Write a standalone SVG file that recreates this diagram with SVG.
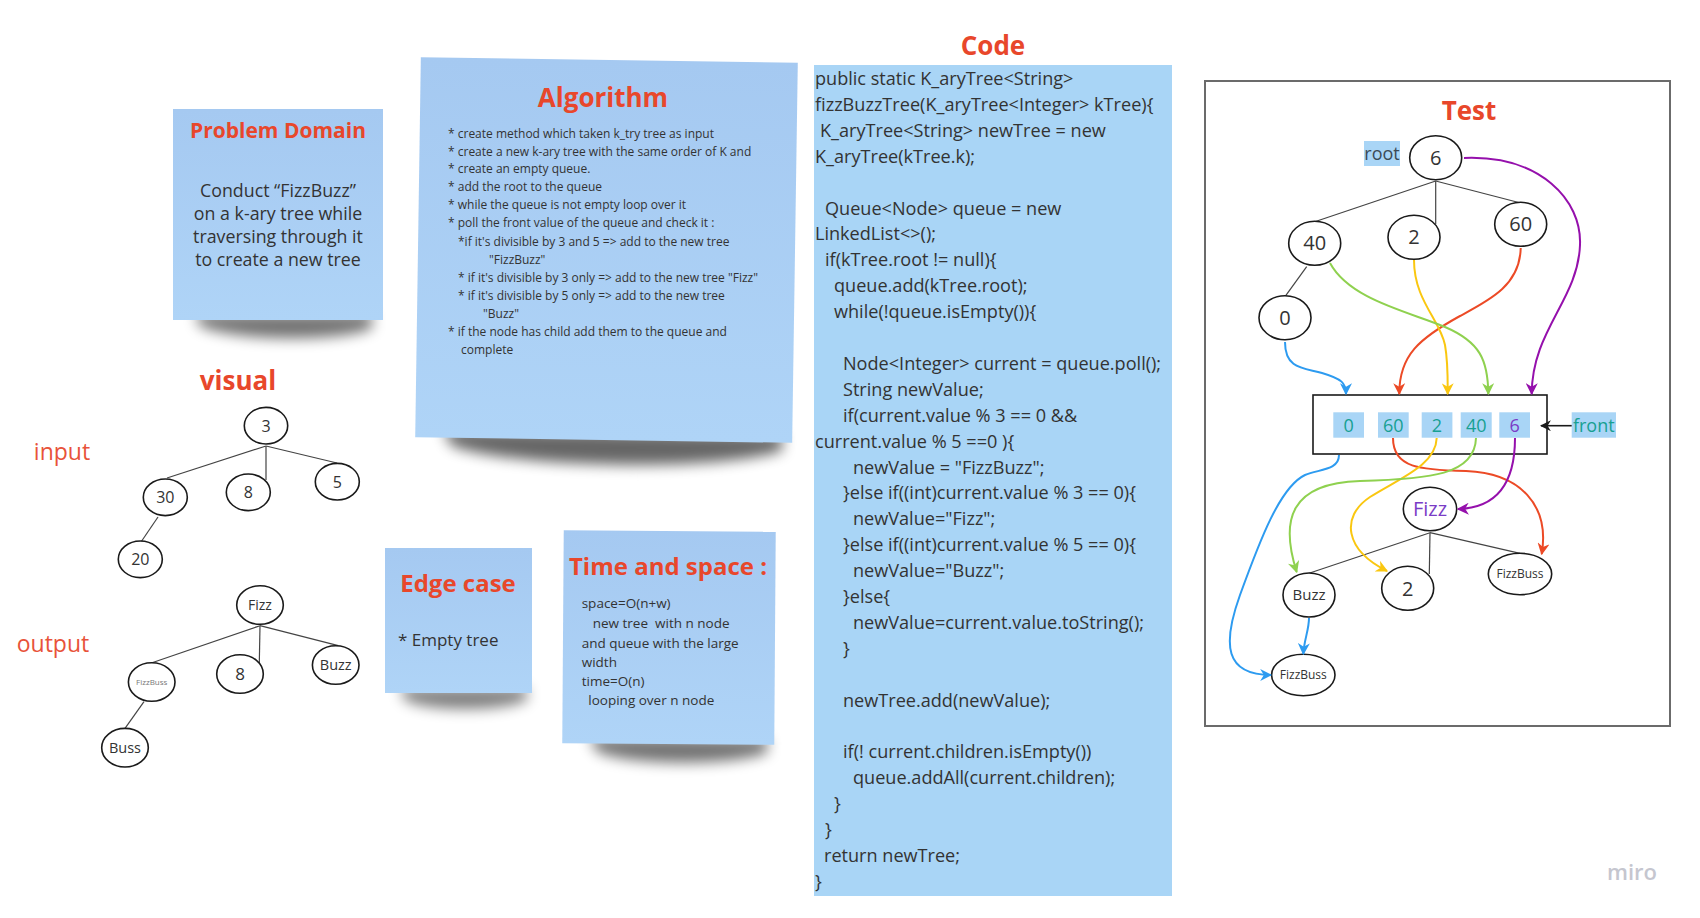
<svg xmlns="http://www.w3.org/2000/svg" width="1700" height="918" viewBox="0 0 1700 918">
<defs>
<style>
text{font-family:"Open Sans","Liberation Sans",sans-serif;fill:#333}
.title{font-weight:700;fill:#e8472b;text-anchor:middle}
.lbl{fill:#e8533a;font-size:23px;text-anchor:middle}
.alg{font-size:12px}
.code{font-size:18.1px}
.ts{font-size:13.5px}
.node{fill:#fff;stroke:#1a1a1a;stroke-width:1.6}
.edge{stroke:#444;stroke-width:1.2;fill:none}
.nt{text-anchor:middle}
.cell{fill:#a9d5f6}
.ct{fill:#17a092;font-size:18px;text-anchor:middle}
.arr{fill:none;stroke-width:2}
</style>
<linearGradient id="stk" x1="0" y1="0" x2="0" y2="1">
<stop offset="0" stop-color="#a5c9f1"/>
<stop offset="1" stop-color="#afd4f7"/>
</linearGradient>
<filter id="blur" x="-20%" y="-100%" width="140%" height="300%"><feGaussianBlur stdDeviation="7"/></filter>
<marker id="mb" viewBox="0 0 10 10" refX="9" refY="5" markerWidth="12" markerHeight="12" markerUnits="userSpaceOnUse" orient="auto"><path d="M0,0 L10,5 L0,10 L3,5 Z" fill="#2d9bf0"/></marker>
<marker id="mr" viewBox="0 0 10 10" refX="9" refY="5" markerWidth="12" markerHeight="12" markerUnits="userSpaceOnUse" orient="auto"><path d="M0,0 L10,5 L0,10 L3,5 Z" fill="#ec4a26"/></marker>
<marker id="my" viewBox="0 0 10 10" refX="9" refY="5" markerWidth="12" markerHeight="12" markerUnits="userSpaceOnUse" orient="auto"><path d="M0,0 L10,5 L0,10 L3,5 Z" fill="#fac710"/></marker>
<marker id="mg" viewBox="0 0 10 10" refX="9" refY="5" markerWidth="12" markerHeight="12" markerUnits="userSpaceOnUse" orient="auto"><path d="M0,0 L10,5 L0,10 L3,5 Z" fill="#8fd14f"/></marker>
<marker id="mp" viewBox="0 0 10 10" refX="9" refY="5" markerWidth="12" markerHeight="12" markerUnits="userSpaceOnUse" orient="auto"><path d="M0,0 L10,5 L0,10 L3,5 Z" fill="#9510ac"/></marker>
<marker id="mk" viewBox="0 0 10 10" refX="9" refY="5" markerWidth="11" markerHeight="11" markerUnits="userSpaceOnUse" orient="auto"><path d="M0,0 L10,5 L0,10 L3,5 Z" fill="#1a1a1a"/></marker>
</defs>
<rect width="1700" height="918" fill="#fff"/>

<!-- Problem Domain sticky -->
<g id="problem-domain">
<path d="M195,314 H372 V328 C340,342 240,342 200,326 Z" fill="#000" opacity="0.55" filter="url(#blur)"/>
<rect x="173" y="109" width="210" height="211" fill="url(#stk)"/>
<text class="title" x="278" y="138" font-size="21">Problem Domain</text>
<g class="nt" font-size="17.8">
<text x="278" y="197">Conduct “FizzBuzz”</text>
<text x="278" y="220">on a k-ary tree while</text>
<text x="278" y="243">traversing through it</text>
<text x="278" y="266">to create a new tree</text>
</g>
</g>

<!-- Algorithm sticky -->
<g id="algorithm">
<g transform="rotate(0.85 605 250)">
<path d="M445,432 H785 V448 C720,470 520,470 455,448 Z" fill="#000" opacity="0.6" filter="url(#blur)"/>
<rect x="418" y="60" width="377" height="380" fill="url(#stk)"/>
</g>
<text class="title" x="603" y="107" font-size="26">Algorithm</text>
<g class="alg">
<text x="448" y="137.7">* create method which taken k_try tree as input</text>
<text x="448" y="155.7">* create a new k-ary tree with the same order of K and</text>
<text x="448" y="173.3">* create an empty queue.</text>
<text x="448" y="191">* add the root to the queue</text>
<text x="448" y="209.3">* while the queue is not empty loop over it</text>
<text x="448" y="227.3">* poll the front value of the queue and check it :</text>
<text x="458" y="246">*if it's divisible by 3 and 5 =&gt; add to the new tree</text>
<text x="489" y="264">"FizzBuzz"</text>
<text x="458" y="281.7">* if it's divisible by 3 only =&gt; add to the new tree "Fizz"</text>
<text x="458" y="300">* if it's divisible by 5 only =&gt; add to the new tree</text>
<text x="483" y="317.7">"Buzz"</text>
<text x="448" y="336">* if the node has child add them to the queue and</text>
<text x="461" y="354">complete</text>
</g>
</g>

<!-- Visual -->
<g id="visual-title"><text class="title" x="238" y="390" font-size="26">visual</text></g>
<g id="input-label"><text class="lbl" x="62" y="460">input</text></g>
<g id="output-label"><text class="lbl" x="53" y="652">output</text></g>

<g id="input-tree-edges">
<line class="edge" x1="266" y1="446" x2="167" y2="478"/>
<line class="edge" x1="266" y1="446" x2="266" y2="480"/>
<line class="edge" x1="266" y1="446" x2="337" y2="463"/>
<line class="edge" x1="158" y1="517" x2="141" y2="542"/>
</g>
<g id="in-3"><ellipse class="node" cx="266" cy="425.7" rx="21.7" ry="18.3"/><text class="nt" x="266" y="431.5" font-size="16">3</text></g>
<g id="in-30"><ellipse class="node" cx="165.3" cy="497.3" rx="22" ry="18.3"/><text class="nt" x="165.3" y="503" font-size="16">30</text></g>
<g id="in-8"><ellipse class="node" cx="248.3" cy="492.3" rx="22" ry="18.3"/><text class="nt" x="248.3" y="498" font-size="16">8</text></g>
<g id="in-5"><ellipse class="node" cx="337.3" cy="481.7" rx="22" ry="18.3"/><text class="nt" x="337.3" y="487.5" font-size="16">5</text></g>
<g id="in-20"><ellipse class="node" cx="140.3" cy="559.3" rx="22" ry="18.3"/><text class="nt" x="140.3" y="565" font-size="16">20</text></g>

<g id="output-tree-edges">
<line class="edge" x1="260" y1="625.7" x2="152" y2="662.7"/>
<line class="edge" x1="260" y1="625.7" x2="259.3" y2="663.3"/>
<line class="edge" x1="260" y1="625.7" x2="338.3" y2="645.7"/>
<line class="edge" x1="144" y1="701.7" x2="125" y2="728.3"/>
</g>
<g id="out-fizz"><ellipse class="node" cx="260" cy="605" rx="23.3" ry="19.3"/><text class="nt" x="260" y="610" font-size="14">Fizz</text></g>
<g id="out-fizzbuss"><ellipse class="node" cx="151.7" cy="682" rx="23.3" ry="19.3"/><text class="nt" x="151.7" y="685" font-size="8" style="fill:#777">FizzBuss</text></g>
<g id="out-8"><ellipse class="node" cx="240" cy="674" rx="23.3" ry="19.3"/><text class="nt" x="240" y="680" font-size="17">8</text></g>
<g id="out-buzz"><ellipse class="node" cx="335.7" cy="665" rx="23.3" ry="19.3"/><text class="nt" x="335.7" y="670" font-size="14.5">Buzz</text></g>
<g id="out-buss"><ellipse class="node" cx="125" cy="747.7" rx="23.3" ry="19.3"/><text class="nt" x="125" y="753" font-size="14.5">Buss</text></g>

<!-- Edge case -->
<g id="edge-case">
<path d="M400,688 H527 V700 C500,712 430,712 405,700 Z" fill="#000" opacity="0.5" filter="url(#blur)"/>
<rect x="385" y="548" width="147" height="145" fill="url(#stk)"/>
<text class="title" x="458" y="592" font-size="24">Edge case</text>
<text x="398" y="646" font-size="17">* Empty tree</text>
</g>

<!-- Time and space -->
<g id="time-space">
<g transform="rotate(0.4 669 637)">
<path d="M590,738 H768 V752 C730,766 630,766 598,752 Z" fill="#000" opacity="0.55" filter="url(#blur)"/>
<rect x="563" y="531" width="212" height="213" fill="url(#stk)"/>
</g>
<text class="title" x="668" y="575" font-size="24">Time and space :</text>
<g class="ts">
<text x="581.7" y="608.3">space=O(n+w)</text>
<text x="592.7" y="628.3" xml:space="preserve">new tree  with n node</text>
<text x="581.7" y="647.7">and queue with the large</text>
<text x="581.7" y="666.7">width</text>
<text x="581.7" y="685.7">time=O(n)</text>
<text x="588.3" y="705">looping over n node</text>
</g>
</g>

<!-- Code -->
<g id="code">
<text class="title" x="993" y="55" font-size="26">Code</text>
<rect x="814" y="65" width="358" height="831" fill="#a9d5f6"/>
<g class="code">
<text x="815" y="85">public static K_aryTree&lt;String&gt;</text>
<text x="815" y="110.9">fizzBuzzTree(K_aryTree&lt;Integer&gt; kTree){</text>
<text x="820" y="136.8">K_aryTree&lt;String&gt; newTree = new</text>
<text x="815" y="162.7">K_aryTree(kTree.k);</text>
<text x="825" y="214.5">Queue&lt;Node&gt; queue = new</text>
<text x="815" y="240.4">LinkedList&lt;&gt;();</text>
<text x="825" y="266.3">if(kTree.root != null){</text>
<text x="834" y="292.2">queue.add(kTree.root);</text>
<text x="834" y="318.1">while(!queue.isEmpty()){</text>
<text x="843" y="369.9">Node&lt;Integer&gt; current = queue.poll();</text>
<text x="843" y="395.8">String newValue;</text>
<text x="843" y="421.7">if(current.value % 3 == 0 &amp;&amp;</text>
<text x="815" y="447.6">current.value % 5 ==0 ){</text>
<text x="853" y="473.5">newValue = "FizzBuzz";</text>
<text x="843" y="499.4">}else if((int)current.value % 3 == 0){</text>
<text x="853" y="525.3">newValue="Fizz";</text>
<text x="843" y="551.2">}else if((int)current.value % 5 == 0){</text>
<text x="853" y="577.1">newValue="Buzz";</text>
<text x="843" y="603">}else{</text>
<text x="853" y="628.9">newValue=current.value.toString();</text>
<text x="843" y="654.8">}</text>
<text x="843" y="706.6">newTree.add(newValue);</text>
<text x="843" y="758.4">if(! current.children.isEmpty())</text>
<text x="853" y="784.3">queue.addAll(current.children);</text>
<text x="834" y="810.2">}</text>
<text x="825" y="836.1">}</text>
<text x="824" y="862">return newTree;</text>
<text x="815" y="887.9">}</text>
</g>
</g>

<!-- Test frame -->
<g id="test-frame">
<rect x="1205" y="81" width="465" height="645" fill="#fff" stroke="#6b6b6b" stroke-width="2"/>
<text class="title" x="1469" y="120" font-size="26">Test</text>
</g>
<g id="root-label"><rect x="1364" y="141" width="36" height="25" class="cell"/><text x="1382" y="160" font-size="18" class="nt" style="fill:#3c4a55">root</text></g>

<g id="test-tree-edges">
<line class="edge" x1="1435.7" y1="181" x2="1314.7" y2="221.7"/>
<line class="edge" x1="1435.7" y1="181" x2="1435.7" y2="224"/>
<line class="edge" x1="1435.7" y1="181" x2="1520.7" y2="203"/>
<line class="edge" x1="1306.7" y1="266.7" x2="1285" y2="296.7"/>
<line class="edge" x1="1430" y1="532.7" x2="1309" y2="573.3"/>
<line class="edge" x1="1430" y1="532.7" x2="1429.3" y2="574"/>
<line class="edge" x1="1430" y1="532.7" x2="1520" y2="553.3"/>
</g>

<g id="t-6"><ellipse class="node" cx="1435.7" cy="157.7" rx="26" ry="22"/><text class="nt" x="1435.7" y="164.5" font-size="20">6</text></g>
<g id="t-40"><ellipse class="node" cx="1314.7" cy="243.3" rx="26" ry="22"/><text class="nt" x="1314.7" y="250" font-size="20">40</text></g>
<g id="t-2"><ellipse class="node" cx="1414" cy="237.3" rx="26" ry="22"/><text class="nt" x="1414" y="244" font-size="20">2</text></g>
<g id="t-60"><ellipse class="node" cx="1520.7" cy="224.3" rx="26" ry="22"/><text class="nt" x="1520.7" y="231" font-size="20">60</text></g>
<g id="t-0"><ellipse class="node" cx="1285" cy="317.7" rx="26" ry="22"/><text class="nt" x="1285" y="324.5" font-size="20">0</text></g>

<g id="queue">
<rect x="1313" y="395" width="234" height="59" fill="#fff" stroke="#1a1a1a" stroke-width="1.6"/>
<rect class="cell" x="1333.3" y="412.3" width="30.7" height="25.4"/><text class="ct" x="1348.7" y="432">0</text>
<rect class="cell" x="1378" y="412.3" width="30.7" height="25.4"/><text class="ct" x="1393.3" y="432">60</text>
<rect class="cell" x="1421.7" y="412.3" width="30.7" height="25.4"/><text class="ct" x="1437" y="432">2</text>
<rect class="cell" x="1460.7" y="412.3" width="31" height="25.4"/><text class="ct" x="1476.2" y="432">40</text>
<rect class="cell" x="1499.3" y="412.3" width="30.7" height="25.4"/><text class="ct" x="1514.7" y="432" style="fill:#7a3cc6">6</text>
</g>
<g id="front-label"><rect class="cell" x="1571.7" y="412.3" width="44.3" height="25.4"/><text class="ct" x="1593.8" y="432">front</text></g>

<g id="r-fizz"><ellipse class="node" cx="1430" cy="509" rx="26.7" ry="21.7"/><text class="nt" x="1430" y="516" font-size="20" style="fill:#7a3cc6">Fizz</text></g>
<g id="r-buzz"><ellipse class="node" cx="1309" cy="595" rx="26" ry="22"/><text class="nt" x="1309" y="600" font-size="15">Buzz</text></g>
<g id="r-2"><ellipse class="node" cx="1407.7" cy="588.3" rx="26" ry="22"/><text class="nt" x="1407.7" y="595.5" font-size="20">2</text></g>
<g id="r-fizzbuss1"><ellipse class="node" cx="1520" cy="574" rx="31.7" ry="20.7"/><text class="nt" x="1520" y="578" font-size="12">FizzBuss</text></g>
<g id="r-fizzbuss2"><ellipse class="node" cx="1303.3" cy="675" rx="31.7" ry="20.7"/><text class="nt" x="1303.3" y="679" font-size="12">FizzBuss</text></g>

<g id="connectors">
<path class="arr" stroke="#2d9bf0" marker-end="url(#mb)" d="M1285,342 C1285,370 1305,368 1322,373 C1342,379 1346,383 1346,394"/>
<path class="arr" stroke="#ec4a26" marker-end="url(#mr)" d="M1520.7,248 C1520,285 1490,300 1460,316 C1420,338 1399,355 1399.3,394"/>
<path class="arr" stroke="#fac710" marker-end="url(#my)" d="M1414,260 C1414,300 1440,320 1445,345 C1448,362 1447.7,375 1447.7,394"/>
<path class="arr" stroke="#8fd14f" marker-end="url(#mg)" d="M1330,263 C1350,300 1410,312 1445,327 C1480,342 1488,360 1488.3,394"/>
<path class="arr" stroke="#9510ac" marker-end="url(#mp)" d="M1464,158 C1540,155 1582,200 1580,245 C1578,300 1532,330 1531.7,394"/>
<path stroke="#1a1a1a" stroke-width="1.6" fill="none" marker-end="url(#mk)" d="M1571.7,425.7 H1541"/>
<path class="arr" stroke="#2d9bf0" marker-end="url(#mb)" d="M1339,455 C1339,470 1320,469 1305,475 C1280,487 1260,540 1240,595 C1222,645 1225,675 1271,675"/>
<path class="arr" stroke="#ec4a26" marker-end="url(#mr)" d="M1393,438 C1393,468 1420,470 1466,471 C1520,473 1550,505 1541.7,554"/>
<path class="arr" stroke="#fac710" marker-end="url(#my)" d="M1436.7,438 C1436,465 1400,478 1370,497 C1340,517 1345,550 1387,571"/>
<path class="arr" stroke="#8fd14f" marker-end="url(#mg)" d="M1476,438 C1475,475 1430,479 1360,481 C1290,483 1280,520 1296.7,572"/>
<path class="arr" stroke="#9510ac" marker-end="url(#mp)" d="M1515,438 C1515,485 1495,508 1458,509"/>
<path class="arr" stroke="#2d9bf0" marker-end="url(#mb)" d="M1309,618 C1309,630 1304,640 1303.3,654"/>
</g>

<g id="miro-logo"><text x="1632" y="880" font-size="22" font-weight="600" text-anchor="middle" style="fill:#c5c6cf">miro</text></g>
</svg>
